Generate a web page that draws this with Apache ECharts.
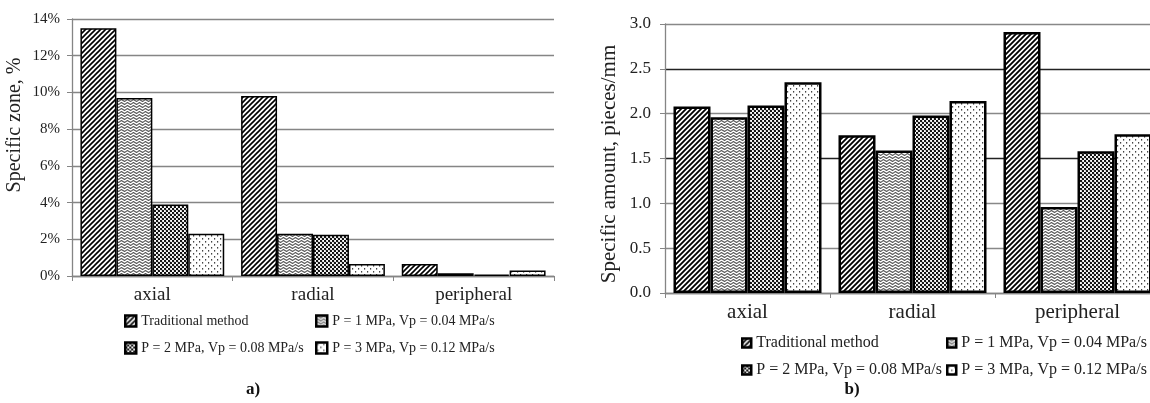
<!DOCTYPE html>
<html>
<head>
<meta charset="utf-8">
<script src="https://cdn.jsdelivr.net/npm/echarts@6/dist/echarts.min.js"></script>
<style>
html,body{margin:0;padding:0;background:#fff;}
#chart{width:1150px;height:403px;}
</style>
</head>
<body>
<div id="chart"></div>
<script>
// ---- data ----
const categories = ['axial', 'radial', 'peripheral'];
const seriesNames = ['Traditional method', 'P = 1 MPa, Vp = 0.04 MPa/s', 'P = 2 MPa, Vp = 0.08 MPa/s', 'P = 3 MPa, Vp = 0.12 MPa/s'];
// chart a) Specific zone, %
const zoneTraditional = [13.5, 9.8, 0.65];
const zoneP1 = [9.7, 2.3, 0.15];
const zoneP2 = [3.9, 2.25, 0.08];
const zoneP3 = [2.3, 0.65, 0.3];
// chart b) Specific amount, pieces/mm
const amountTraditional = [2.08, 1.76, 2.91];
const amountP1 = [1.96, 1.59, 0.96];
const amountP2 = [2.09, 1.98, 1.58];
const amountP3 = [2.35, 2.14, 1.77];
const zoneTicks = [0, 2, 4, 6, 8, 10, 12, 14];
const amountTicks = [0, 0.5, 1.0, 1.5, 2.0, 2.5, 3.0];

// ---- patterns ----
function tile(w, h, draw) {
  const c = document.createElement('canvas');
  c.width = w; c.height = h;
  const ctx = c.getContext('2d');
  ctx.fillStyle = '#fff';
  ctx.fillRect(0, 0, w, h);
  draw(ctx, w, h);
  return c;
}
function hatch(s, lw) {
  return tile(s, s, (ctx) => {
    ctx.strokeStyle = '#000';
    ctx.lineWidth = lw;
    ctx.beginPath();
    ctx.moveTo(-1, s + 1); ctx.lineTo(s + 1, -1);
    ctx.moveTo(-1, 1); ctx.lineTo(1, -1);
    ctx.moveTo(s - 1, s + 1); ctx.lineTo(s + 1, s - 1);
    ctx.stroke();
  });
}
function wavy() {
  return tile(6, 3, (ctx) => {
    ctx.strokeStyle = '#555';
    ctx.lineWidth = 1.1;
    ctx.beginPath();
    ctx.moveTo(0, 1.5); ctx.lineTo(1.5, 0.5); ctx.lineTo(4.5, 2.5); ctx.lineTo(6, 1.5);
    ctx.stroke();
  });
}
function denseDots() {
  return tile(4, 4, (ctx) => {
    ctx.fillStyle = '#111';
    ctx.beginPath(); ctx.arc(1, 1, 1.25, 0, Math.PI * 2); ctx.fill();
    ctx.beginPath(); ctx.arc(3, 3, 1.25, 0, Math.PI * 2); ctx.fill();
  });
}
function sparseDots() {
  return tile(6, 6, (ctx) => {
    ctx.fillStyle = '#444';
    ctx.fillRect(1, 1, 1.2, 1.6);
    ctx.fillRect(4, 4, 1.2, 1.6);
  });
}
const patLeft = [hatch(5, 1.6), wavy(), denseDots(), sparseDots()];
const patRight = [hatch(5, 1.8), wavy(), denseDots(), sparseDots()];
const pat = (c) => ({ image: c, repeat: 'repeat' });

const FONT = 'Liberation Serif, Times New Roman, serif';
const TXT = '#222';
const GRAY = '#858585';

const zoneData = [zoneTraditional, zoneP1, zoneP2, zoneP3];
const amountData = [amountTraditional, amountP1, amountP2, amountP3];

const series = [];
seriesNames.forEach((n, i) => {
  series.push({
    name: n, type: 'bar', xAxisIndex: 0, yAxisIndex: 0,
    data: zoneData[i], barGap: '0%', barCategoryGap: '10.5%',
    itemStyle: { color: pat(patLeft[i]), borderColor: '#000', borderWidth: 1.5 },
    emphasis: { disabled: true }
  });
});
seriesNames.forEach((n, i) => {
  series.push({
    name: n, type: 'bar', xAxisIndex: 1, yAxisIndex: 1,
    data: amountData[i], barGap: '0%', barCategoryGap: '10.3%',
    itemStyle: { color: pat(patRight[i]), borderColor: '#000', borderWidth: 2.5 },
    emphasis: { disabled: true }
  });
});

function legendCol(names, left, top, fs, iconSize, gap, idxs, pats) {
  return {
    orient: 'vertical', left: left, top: top, padding: 0,
    itemWidth: iconSize, itemHeight: iconSize, itemGap: gap,
    icon: 'rect', selectedMode: false,
    textStyle: { fontFamily: FONT, fontSize: fs, color: TXT },
    data: names.map((n, k) => ({
      name: n,
      itemStyle: { color: pat(pats[idxs[k]]), borderColor: '#000', borderWidth: 2.5 }
    }))
  };
}

const option = {
  animation: false,
  backgroundColor: '#fff',
  grid: [
    { left: 72, top: 19, width: 482, height: 257, outerBoundsMode: 'none' },
    { left: 665, top: 24, width: 495, height: 269, outerBoundsMode: 'none' }
  ],
  xAxis: [
    {
      type: 'category', gridIndex: 0, data: categories,
      axisLine: { lineStyle: { color: GRAY, width: 1.3 } },
      axisTick: { show: true, length: 5, lineStyle: { color: GRAY } },
      axisLabel: { fontFamily: FONT, fontSize: 19, color: TXT, margin: 10 }
    },
    {
      type: 'category', gridIndex: 1, data: categories,
      axisLine: { lineStyle: { color: GRAY, width: 1.3 } },
      axisTick: { show: true, length: 5, lineStyle: { color: GRAY } },
      axisLabel: { fontFamily: FONT, fontSize: 21, color: TXT, margin: 9 }
    }
  ],
  yAxis: [
    {
      type: 'value', gridIndex: 0, min: zoneTicks[0], max: zoneTicks[zoneTicks.length - 1], interval: zoneTicks[1] - zoneTicks[0],
      axisLine: { show: true, lineStyle: { color: GRAY, width: 1.3 } },
      axisTick: { show: true, length: 5, lineStyle: { color: GRAY } },
      axisLabel: { fontFamily: FONT, fontSize: 15, color: TXT, margin: 12, formatter: '{value}%' },
      splitLine: { lineStyle: { color: GRAY, width: 1.3 } }
    },
    {
      type: 'value', gridIndex: 1, min: amountTicks[0], max: amountTicks[amountTicks.length - 1], interval: amountTicks[1] - amountTicks[0],
      axisLine: { show: true, lineStyle: { color: GRAY, width: 1.3 } },
      axisTick: { show: true, length: 5, lineStyle: { color: GRAY } },
      axisLabel: { fontFamily: FONT, fontSize: 17, color: TXT, margin: 14, formatter: (v) => v.toFixed(1) },
      splitLine: { lineStyle: { color: ['#888', '#888', '#888', '#222', '#888', '#222', '#888'], width: 1.3 } }
    }
  ],
  legend: [
    legendCol([seriesNames[0], seriesNames[2]], 124, 314, 14, 11, 13, [0, 2], patLeft),
    legendCol([seriesNames[1], seriesNames[3]], 315, 314, 14, 11, 13, [1, 3], patLeft),
    legendCol([seriesNames[0], seriesNames[2]], 741, 335, 16, 9, 11, [0, 2], patRight),
    legendCol([seriesNames[1], seriesNames[3]], 946, 335, 16, 9, 11, [1, 3], patRight)
  ],
  graphic: [
    { type: 'text', x: 15, y: 125, rotation: Math.PI / 2,
      style: { text: 'Specific zone, %', font: '20px ' + FONT, fill: TXT, textAlign: 'center', textVerticalAlign: 'middle' } },
    { type: 'text', x: 609, y: 164, rotation: Math.PI / 2,
      style: { text: 'Specific amount, pieces/mm', font: '21px ' + FONT, fill: TXT, textAlign: 'center', textVerticalAlign: 'middle' } },
    { type: 'text', x: 253, y: 390,
      style: { text: 'a)', font: 'bold 17px ' + FONT, fill: '#111', textAlign: 'center', textVerticalAlign: 'middle' } },
    { type: 'text', x: 852, y: 390,
      style: { text: 'b)', font: 'bold 17px ' + FONT, fill: '#111', textAlign: 'center', textVerticalAlign: 'middle' } }
  ],
  series: series
};

const chart = echarts.init(document.getElementById('chart'), null, { renderer: 'canvas' });
chart.setOption(option);
</script>
</body>
</html>
